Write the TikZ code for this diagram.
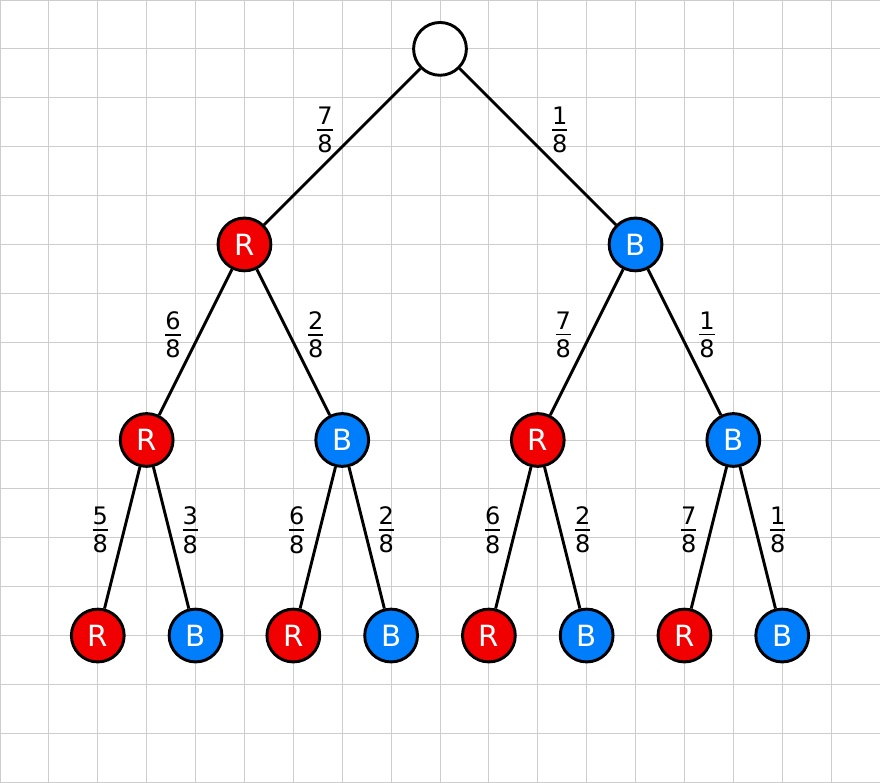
\documentclass[tikz,border=0pt]{standalone}
\usepackage{fontspec}
\setmainfont{DejaVu Sans}
\definecolor{nodered}{RGB}{240,0,0}
\definecolor{nodeblue}{RGB}{0,125,250}
\definecolor{gridgray}{RGB}{205,205,205}
\newcommand\myfrac[2]{\vbox{\halign{\hfil##\hfil\cr #1\cr\noalign{\kern2.5pt\hrule height 1.1pt\kern2.5pt}#2\cr}}}
\begin{document}
\begin{tikzpicture}[
  ball/.style={circle,draw=black,line width=1.7pt,minimum size=1.08cm,inner sep=0pt,
    text=white,font=\fontsize{17}{17}\selectfont},
  rball/.style={ball,fill=nodered},
  bball/.style={ball,fill=nodeblue},
  wball/.style={ball,fill=white},
  edge/.style={line width=1.7pt,draw=black},
  prob/.style={font=\fontsize{14}{14}\selectfont,inner sep=0pt}
]
\useasboundingbox (0,0) rectangle (18,16);
\draw[gridgray,line width=0.5pt] (0,0) grid (18,16);
\node[wball] (r) at (9,15) {};
\node[rball] (a) at (5,11) {R};
\node[bball] (b) at (13,11) {B};
\node[rball] (aa) at (3,7) {R};
\node[bball] (ab) at (7,7) {B};
\node[rball] (ba) at (11,7) {R};
\node[bball] (bb) at (15,7) {B};
\node[rball] (aaa) at (2,3) {R};
\node[bball] (aab) at (4,3) {B};
\node[rball] (aba) at (6,3) {R};
\node[bball] (abb) at (8,3) {B};
\node[rball] (baa) at (10,3) {R};
\node[bball] (bab) at (12,3) {B};
\node[rball] (bba) at (14,3) {R};
\node[bball] (bbb) at (16,3) {B};
\foreach \p/\c in {r/a,r/b,a/aa,a/ab,b/ba,b/bb,aa/aaa,aa/aab,ab/aba,ab/abb,ba/baa,ba/bab,bb/bba,bb/bbb}
  \draw[edge] (\p) -- (\c);
\node[prob] (l1) at (6.65,13.34) {\myfrac{7}{8}};
\node[prob] (l2) at (11.45,13.34) {\myfrac{1}{8}};
\node[prob] (l3) at (3.54,9.15) {\myfrac{6}{8}};
\node[prob] (l4) at (6.46,9.15) {\myfrac{2}{8}};
\node[prob] (l5) at (11.52,9.15) {\myfrac{7}{8}};
\node[prob] (l6) at (14.46,9.15) {\myfrac{1}{8}};
\node[prob] (l7) at (2.05,5.16) {\myfrac{5}{8}};
\node[prob] (l8) at (3.89,5.16) {\myfrac{3}{8}};
\node[prob] (l9) at (6.07,5.16) {\myfrac{6}{8}};
\node[prob] (l10) at (7.9,5.16) {\myfrac{2}{8}};
\node[prob] (l11) at (10.08,5.16) {\myfrac{6}{8}};
\node[prob] (l12) at (11.92,5.16) {\myfrac{2}{8}};
\node[prob] (l13) at (14.09,5.16) {\myfrac{7}{8}};
\node[prob] (l14) at (15.91,5.16) {\myfrac{1}{8}};
\end{tikzpicture}
\end{document}
